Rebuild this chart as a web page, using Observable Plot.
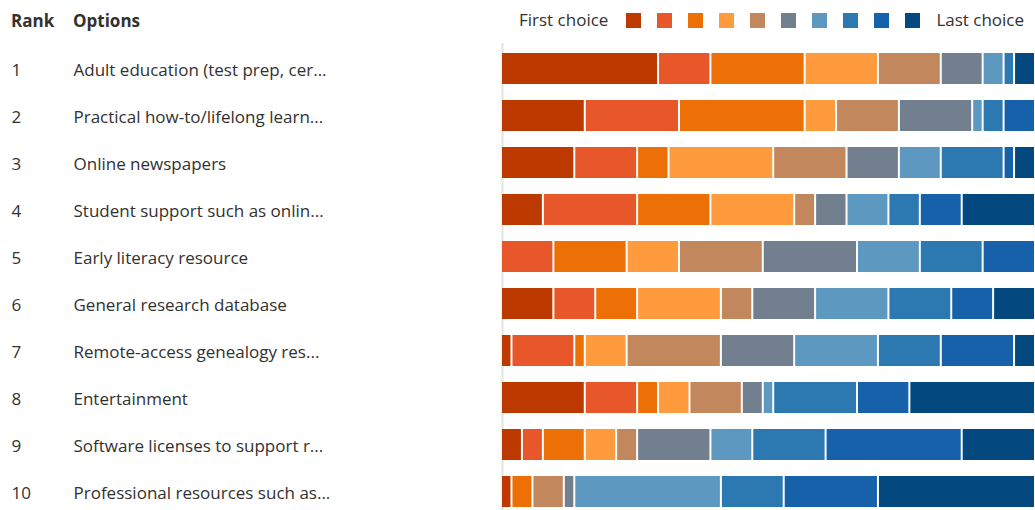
<!DOCTYPE html>
<html>
<head>
<meta charset="utf-8">
<script src="https://cdn.jsdelivr.net/npm/d3@7"></script>
<script src="https://cdn.jsdelivr.net/npm/@observablehq/plot@0.6"></script>
<style>
  html, body { margin: 0; padding: 0; background: #fff; overflow: hidden; }
  body { font-family: "Open Sans", "Noto Sans", sans-serif; color: #323130; width: 1035px; }
  #header { position: relative; height: 43px; font-size: 17px; }
  #header .h { position: absolute; top: 9px; font-weight: 700; line-height: 24px; }
  #legend { position: absolute; top: 8px; left: 519px; display: flex; align-items: center; }
  #legend .sw { width: 15px; height: 15px; margin-right: 16px; box-sizing: border-box; }
  #legend .lab { line-height: 24px; }
</style>
</head>
<body>
<div id="header">
  <span class="h" style="left:11px">Rank</span>
  <span class="h" style="left:73px">Options</span>
  <div id="legend"></div>
</div>
<div id="chart"></div>
<script>
const ranks = [1, 2, 3, 4, 5, 6, 7, 8, 9, 10];
const options = [
  "Adult education (test prep, cer...",
  "Practical how-to/lifelong learn...",
  "Online newspapers",
  "Student support such as onlin...",
  "Early literacy resource",
  "General research database",
  "Remote-access genealogy res...",
  "Entertainment",
  "Software licenses to support r...",
  "Professional resources such as..."
];
const choices = [1, 2, 3, 4, 5, 6, 7, 8, 9, 10];
const colors = ["#bc3a00", "#e8572a", "#ec7005", "#ff9a3d", "#c2875d",
                "#717f8f", "#5d98c1", "#2c78b0", "#1661aa", "#03497f"];
// number of respondents placing each option at choice 1..10
const counts = [
  [15, 5, 9, 7, 6, 4, 2, 1, 0, 2],
  [8, 9, 12, 3, 6, 7, 1, 2, 3, 0],
  [7, 6, 3, 10, 7, 5, 4, 6, 1, 2],
  [4, 9, 7, 8, 2, 3, 4, 3, 4, 7],
  [0, 5, 7, 5, 8, 9, 6, 6, 5, 0],
  [5, 4, 4, 8, 3, 6, 7, 6, 4, 4],
  [1, 6, 1, 4, 9, 7, 8, 6, 7, 2],
  [8, 5, 2, 3, 5, 2, 1, 8, 5, 12],
  [2, 2, 4, 3, 2, 7, 4, 7, 13, 7],
  [1, 0, 2, 0, 3, 1, 14, 6, 9, 15]
];
const total = 51;
const firstLabel = "First choice";
const lastLabel = "Last choice";

// legend
const legend = document.getElementById("legend");
const l1 = document.createElement("span");
l1.className = "lab"; l1.textContent = firstLabel; l1.style.marginRight = "18px";
legend.appendChild(l1);
colors.forEach(c => {
  const s = document.createElement("span");
  s.className = "sw"; s.style.background = c;
  legend.appendChild(s);
});
const l2 = document.createElement("span");
l2.className = "lab"; l2.textContent = lastLabel; l2.style.marginLeft = "0px";
legend.appendChild(l2);

const data = [];
ranks.forEach((r, i) => {
  choices.forEach((c, j) => {
    data.push({rank: r, choice: c, count: counts[i][j]});
  });
});
const rows = ranks.map((r, i) => ({rank: r, option: options[i]}));

const chart = Plot.plot({
  width: 1035,
  height: 467,
  marginLeft: 501,
  marginRight: 0,
  marginTop: 0,
  marginBottom: 0,
  style: {fontFamily: "'Open Sans', 'Noto Sans', sans-serif", fontSize: "17px", color: "#323130", overflow: "visible", display: "block"},
  x: {domain: [0, total], axis: null},
  y: {domain: ranks, axis: null, range: [2.3, 471.1], paddingInner: 0.35, paddingOuter: 0.1},
  color: {domain: choices, range: colors},
  marks: [
    Plot.ruleX([0], {stroke: "#e3e3e3", strokeWidth: 2, dx: 1}),
    Plot.barX(data.filter(d => d.count > 0), Plot.stackX({
      x: "count", y: "rank", fill: "choice", order: null,
      insetLeft: 1, insetRight: 1
    })),
    Plot.text(rows, {y: "rank", text: d => String(d.rank), frameAnchor: "left", textAnchor: "start", dx: -490, dy: 2, fill: "#323130"}),
    Plot.text(rows, {y: "rank", text: "option", frameAnchor: "left", textAnchor: "start", dx: -428, dy: 2, fill: "#323130"})
  ]
});
document.getElementById("chart").appendChild(chart);
</script>
</body>
</html>
